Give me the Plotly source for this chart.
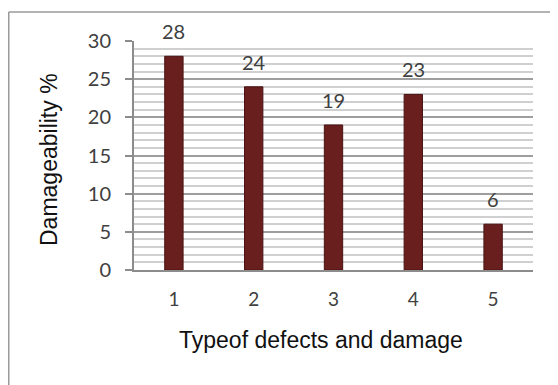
import plotly.graph_objects as go

categories = [1, 2, 3, 4, 5]
values = [28, 24, 19, 23, 6]
y_ticks = [0, 5, 10, 15, 20, 25, 30]
x_title = "Typeof defects and damage"
y_title = "Damageability %"

# page body has an 8px default margin; figure sized to fit the window
OFF = 8
W, H = 558 - OFF, 385 - OFF
L, R, T, B = 134 - OFF, 25, 41 - OFF, 115
pw, ph = W - L - R, H - T - B

def px_x(p):
    return (p - OFF - L) / pw

def px_y(p):
    return (H - B - (p - OFF)) / ph

fig = go.Figure()
fig.add_trace(go.Bar(
    x=categories, y=values, width=0.23,
    marker=dict(color="#6a1f1f", line=dict(color="#4a1212", width=1)),
    hoverinfo="skip",
))

annotations = []
for c, v in zip(categories, values):
    annotations.append(dict(
        x=c, y=v, xref="x", yref="y", text=str(v), showarrow=False,
        yanchor="bottom", yshift=11,
        font=dict(family="Lato", size=20, color="#404040"),
    ))
annotations.append(dict(
    x=px_x(49), y=px_y(160), xref="paper", yref="paper", text=y_title,
    showarrow=False, textangle=-90, xanchor="center", yanchor="middle",
    font=dict(family="Liberation Sans", size=23, color="#111111"),
))
annotations.append(dict(
    x=px_x(321), y=px_y(340), xref="paper", yref="paper", text=x_title,
    showarrow=False, xanchor="center", yanchor="middle",
    font=dict(family="Liberation Sans", size=23, color="#111111"),
))

shapes = [
    dict(type="line", xref="paper", yref="paper", x0=px_x(OFF + 0.75), x1=px_x(W + OFF + 5),
         y0=px_y(12), y1=px_y(12), line=dict(color="#9a9a9a", width=1.5)),
    dict(type="line", xref="paper", yref="paper", x0=px_x(OFF + 0.75), x1=px_x(OFF + 0.75),
         y0=px_y(12), y1=px_y(H + OFF + 5), line=dict(color="#9a9a9a", width=1.5)),
]

fig.update_layout(
    width=W, height=H,
    margin=dict(l=L, r=R, t=T, b=B, pad=0),
    paper_bgcolor="white", plot_bgcolor="white",
    showlegend=False,
    annotations=annotations,
    shapes=shapes,
    xaxis=dict(
        range=[0.5, 5.5], tickmode="array", tickvals=categories,
        ticktext=[str(c) for c in categories],
        showgrid=False, zeroline=False, showline=True,
        linecolor="#8c8c8c", linewidth=2, ticks="",
        ticklabelstandoff=11,
        tickfont=dict(family="Lato", size=19, color="#404040"),
    ),
    yaxis=dict(
        range=[0, 30], tickmode="array", tickvals=y_ticks,
        showgrid=True, gridcolor="#9e9e9e", gridwidth=2,
        minor=dict(dtick=1, showgrid=True, gridcolor="#d0d0d0", gridwidth=2),
        zeroline=False, showline=True, linecolor="#8c8c8c", linewidth=2,
        ticks="outside", ticklen=7, tickcolor="#8c8c8c", tickwidth=2,
        ticklabelstandoff=10,
        tickfont=dict(family="Lato", size=20, color="#404040"),
    ),
)

fig.write_html("out.html")
